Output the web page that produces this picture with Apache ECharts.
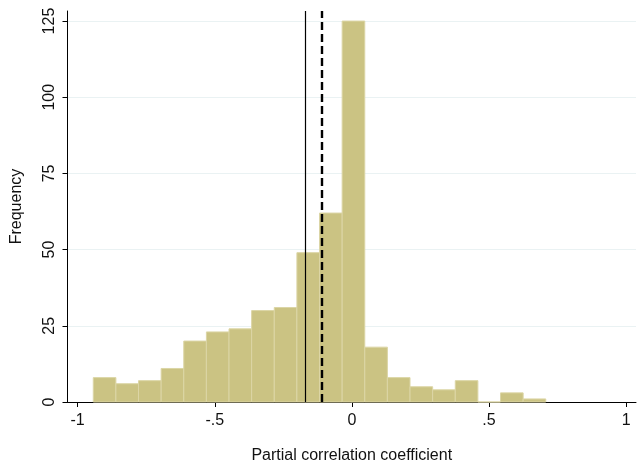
<!DOCTYPE html>
<html>
<head>
<meta charset="utf-8">
<script src="https://cdn.jsdelivr.net/npm/echarts@6/dist/echarts.min.js"></script>
<style>
    html, body { margin: 0; padding: 0; background: #fff; }
    #chart { width: 644px; height: 469px; }
</style>
</head>
<body>
<div id="chart"></div>
<script>
// bin edges (21 edges -> 20 bins) and counts per bin
let binEdges = [-0.943, -0.8605, -0.778, -0.6955, -0.613, -0.5305, -0.448, -0.3655, -0.283, -0.2005,
    -0.118, -0.0355, 0.047, 0.1295, 0.212, 0.2945, 0.377, 0.4595, 0.542, 0.6245, 0.707];
let counts = [8, 6, 7, 11, 20, 23, 24, 30, 31, 49, 62, 125, 18, 8, 5, 4, 7, 0, 3, 1];

let xTicks = [-1, -0.5, 0, 0.5, 1];
let xTickLabels = ['-1', '-.5', '0', '.5', '1'];
let yTicks = [0, 25, 50, 75, 100, 125];

// reference lines
let solidLineAt = -0.173;
let dashedLineAt = -0.106;

let bars = counts.map((c, i) => [binEdges[i], binEdges[i + 1], c]);

let chart = echarts.init(document.getElementById('chart'));
let font = 'Liberation Sans, Arial, Helvetica, sans-serif';
let textColor = '#111';

let option = {
    animation: false,
    grid: { left: 67.5, right: 8, top: 11, bottom: 67, outerBoundsMode: 'none' },
    xAxis: {
        type: 'value',
        min: -1.037,
        max: 1.036,
        name: 'Partial correlation coefficient',
        nameLocation: 'middle',
        nameGap: 46,
        nameTextStyle: { fontFamily: font, fontSize: 16, color: textColor },
        axisLine: { show: true, onZero: false, lineStyle: { color: '#000', width: 1 } },
        axisTick: { show: true, length: 5, customValues: xTicks, lineStyle: { color: '#000' } },
        axisLabel: {
            customValues: xTicks,
            margin: 11,
            fontFamily: font,
            fontSize: 16,
            color: textColor,
            formatter: (v) => xTickLabels[xTicks.indexOf(v)]
        },
        splitLine: { show: false }
    },
    yAxis: {
        type: 'value',
        min: 0,
        max: 128.3,
        name: 'Frequency',
        nameLocation: 'middle',
        nameGap: 43,
        nameTextStyle: { fontFamily: font, fontSize: 16, color: textColor },
        axisLine: { show: true, onZero: false, lineStyle: { color: '#000', width: 1 } },
        axisTick: { show: true, length: 5, customValues: yTicks, lineStyle: { color: '#000' } },
        axisLabel: {
            customValues: yTicks,
            rotate: 90,
            margin: 10,
            fontFamily: font,
            fontSize: 16,
            color: textColor
        },
        splitLine: { show: true, lineStyle: { color: '#eaf2f3', width: 1 } }
    },
    series: [
        {
            type: 'custom',
            z: 2,
            data: bars,
            encode: { x: [0, 1], y: 2 },
            renderItem: (params, api) => {
                let p0 = api.coord([api.value(0), api.value(2)]);
                let p1 = api.coord([api.value(1), 0]);
                return {
                    type: 'rect',
                    shape: { x: p0[0], y: p0[1], width: p1[0] - p0[0], height: p1[1] - p0[1] },
                    style: { fill: '#cbc383', stroke: '#dcd6a6', lineWidth: 1 }
                };
            }
        },
        {
            // vertical reference lines
            type: 'line',
            data: [],
            z: 3,
            markLine: {
                silent: true,
                symbol: 'none',
                label: { show: false },
                data: [
                    { xAxis: solidLineAt, lineStyle: { color: '#000', width: 1.2, type: 'solid' } },
                    { xAxis: dashedLineAt, lineStyle: { color: '#000', width: 2.4, type: [8, 4] } }
                ]
            }
        }
    ]
};

chart.setOption(option);
</script>
</body>
</html>
